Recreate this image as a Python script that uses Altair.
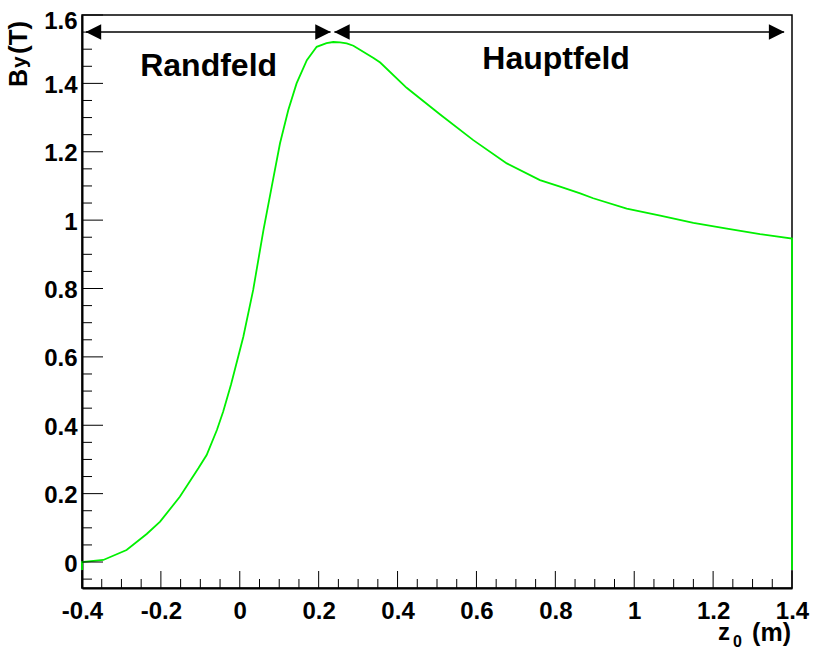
import altair as alt
import pandas as pd

# ---- data ----
z_vals = [-0.4, -0.4, -0.346, -0.287, -0.236, -0.202, -0.152, -0.105, -0.084, -0.058,
          -0.042, -0.022, 0.009, 0.034, 0.060, 0.081, 0.102, 0.123, 0.144, 0.170,
          0.195, 0.220, 0.237, 0.254, 0.271, 0.288, 0.339, 0.356, 0.423, 0.508,
          0.592, 0.677, 0.761, 0.812, 0.863, 0.896, 0.981, 1.066, 1.150, 1.235,
          1.319, 1.4, 1.4]
by_vals = [-0.023, 0.0, 0.006, 0.035, 0.082, 0.118, 0.191, 0.274, 0.313, 0.386,
           0.44, 0.52, 0.659, 0.796, 0.971, 1.098, 1.225, 1.322, 1.40, 1.468,
           1.507, 1.518, 1.521, 1.520, 1.517, 1.510, 1.474, 1.461, 1.387, 1.309,
           1.234, 1.166, 1.117, 1.098, 1.078, 1.064, 1.034, 1.013, 0.992, 0.975,
           0.959, 0.946, -0.023]

x_major = [-0.4, -0.2, 0.0, 0.2, 0.4, 0.6, 0.8, 1.0, 1.2, 1.4]
x_minor = [-0.35, -0.3, -0.25, -0.15, -0.1, -0.05, 0.05, 0.1, 0.15, 0.25, 0.3, 0.35,
           0.45, 0.5, 0.55, 0.65, 0.7, 0.75, 0.85, 0.9, 0.95, 1.05, 1.1, 1.15,
           1.25, 1.3, 1.35]
y_major = [0.0, 0.2, 0.4, 0.6, 0.8, 1.0, 1.2, 1.4, 1.6]
y_minor = [-0.05, 0.05, 0.1, 0.15, 0.25, 0.3, 0.35, 0.45, 0.5, 0.55, 0.65, 0.7, 0.75,
           0.85, 0.9, 0.95, 1.05, 1.1, 1.15, 1.25, 1.3, 1.35, 1.45, 1.5, 1.55]

arrow_start = [-0.39, 0.24]
arrow_end = [0.23, 1.38]
arrow_level = [1.55, 1.55]

label_text = ["Randfeld", "Hauptfeld"]
label_x = [-0.079, 0.802]
label_y = [1.4216, 1.441]

X_DOMAIN = [-0.4, 1.4]
Y_DOMAIN = [-0.076, 1.6]
FONT = "Liberation Sans"

curve_df = pd.DataFrame({"z": z_vals, "By": by_vals, "i": list(range(len(z_vals)))})

xs = alt.Scale(domain=X_DOMAIN, nice=False, zero=False)
ys = alt.Scale(domain=Y_DOMAIN, nice=False, zero=False)

x_axis = alt.Axis(values=x_major, title=None, ticks=False, grid=False,
                  domain=True, domainColor="black", domainWidth=2,
                  labelExpr="toString(round(datum.value*10)/10)",
                  labelBaseline="alphabetic", labelPadding=30,
                  labelFont=FONT, labelFontSize=24, labelFontWeight="bold",
                  labelColor="black", labelFlush=False, labelOverlap=False)
y_axis = alt.Axis(values=y_major, title=None, ticks=False, grid=False,
                  domain=True, domainColor="black", domainWidth=2,
                  labelExpr="toString(round(datum.value*10)/10)",
                  labelBaseline="middle", labelAlign="right", labelPadding=5,
                  labelOffset={"condition": {"test": "datum.value >= 1.55", "value": 6}, "value": 2},
                  labelFont=FONT, labelFontSize=24, labelFontWeight="bold",
                  labelColor="black", labelFlush=False, labelOverlap=False)

curve = alt.Chart(curve_df).mark_line(color="#00f000", strokeWidth=1.8).encode(
    x=alt.X("z:Q", scale=xs, axis=x_axis),
    y=alt.Y("By:Q", scale=ys, axis=y_axis),
    order=alt.Order("i:Q"),
)

ymaj = alt.Chart(pd.DataFrame({"v": y_major})).mark_rule(color="black", strokeWidth=1).encode(
    y=alt.Y("v:Q", scale=ys), x=alt.value(0), x2=alt.value(21))
ymin = alt.Chart(pd.DataFrame({"v": y_minor})).mark_rule(color="black", strokeWidth=1).encode(
    y=alt.Y("v:Q", scale=ys), x=alt.value(0), x2=alt.value(10))
xmaj = alt.Chart(pd.DataFrame({"v": x_major})).mark_rule(color="black", strokeWidth=1).encode(
    x=alt.X("v:Q", scale=xs), y=alt.value(573), y2=alt.value(556))
xmin = alt.Chart(pd.DataFrame({"v": x_minor})).mark_rule(color="black", strokeWidth=1).encode(
    x=alt.X("v:Q", scale=xs), y=alt.value(573), y2=alt.value(564))

arrows_df = pd.DataFrame({"x0": arrow_start, "x1": arrow_end, "y": arrow_level})
arrow_lines = alt.Chart(arrows_df).mark_rule(color="black", strokeWidth=1.5).encode(
    x=alt.X("x0:Q", scale=xs), x2="x1:Q", y=alt.Y("y:Q", scale=ys))
heads_right = alt.Chart(arrows_df).mark_point(
    shape="M-1,-1L1,0L-1,1Z", filled=True, color="black", opacity=1, size=240, xOffset=-7.5
).encode(x=alt.X("x1:Q", scale=xs), y=alt.Y("y:Q", scale=ys))
heads_left = alt.Chart(arrows_df).mark_point(
    shape="M1,-1L-1,0L1,1Z", filled=True, color="black", opacity=1, size=240, xOffset=7.5
).encode(x=alt.X("x0:Q", scale=xs), y=alt.Y("y:Q", scale=ys))

labels_df = pd.DataFrame({"t": label_text, "x": label_x, "y": label_y})
labels = alt.Chart(labels_df).mark_text(
    font=FONT, fontSize=32, fontWeight="bold", color="black", align="center", baseline="alphabetic"
).encode(x=alt.X("x:Q", scale=xs), y=alt.Y("y:Q", scale=ys), text="t:N")

# axis titles (pixel positions relative to plot origin at (82, 15))
def txt(s, x, y, size, angle=0, align="left"):
    props = dict(font=FONT, fontSize=size, fontWeight="bold", color="black",
                 align=align, baseline="alphabetic")
    if angle:
        props["angle"] = angle
    return alt.Chart(pd.DataFrame({"t": [s]})).mark_text(**props).encode(
        x=alt.value(x), y=alt.value(y), text="t:N")

title_parts = [
    txt("B", 27 - 82, 87 - 15, 25, 270),
    txt("y", 26 - 82, 68 - 15, 21, 270),
    txt("(T)", 27 - 82, 54 - 15, 26, 270),
    txt("z", 718 - 82, 640 - 15, 24),
    txt("0", 733 - 82, 647 - 15, 16),
    txt("(m)", 791 - 82, 641 - 15, 25, 0, "right"),
]

chart = alt.layer(
    curve, ymaj, ymin, xmaj, xmin, arrow_lines, heads_right, heads_left, labels, *title_parts
).properties(
    width=710, height=573,
    padding={"left": 82, "top": 15, "right": 23, "bottom": 67},
    autosize=alt.AutoSizeParams(type="none"),
    background="white",
).configure_view(stroke="black", strokeWidth=1.5)

chart.save("out.html", embed_options={"renderer": "svg", "actions": False})
